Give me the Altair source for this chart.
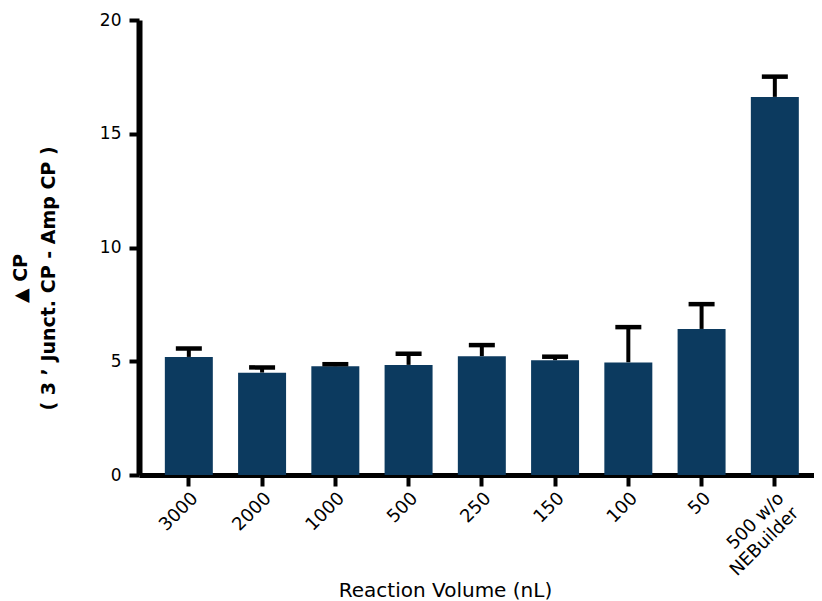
import altair as alt
import pandas as pd

categories = ["3000", "2000", "1000", "500", "250", "150", "100", "50", "500 w/o\nNEBuilder"]
means = [5.19, 4.50, 4.78, 4.84, 5.22, 5.04, 4.95, 6.42, 16.62]
upper = [5.56, 4.73, 4.87, 5.33, 5.71, 5.20, 6.50, 7.51, 17.51]

df = pd.DataFrame({"cat": categories, "mean": means, "upper": upper})

FONT = "DejaVu Sans"
BAR = "#0c3a5f"

x_enc = alt.X(
    "cat:N",
    sort=categories,
    scale=alt.Scale(paddingInner=0.345, paddingOuter=0.28, align=0.63),
    axis=alt.Axis(
        title="Reaction Volume (nL)",
        labelAngle=-45,
        labelAlign="right",
        labelBaseline="top",
        labelPadding=3,
        labelFontSize=18,
        labelColor="black",
        labelFont=FONT,
        labelLineHeight=21,
        labelExpr="split(datum.label, '\\n')",
        domainColor="black",
        domainWidth=5,
        tickColor="black",
        tickSize=11,
        tickWidth=4,
        titleFont=FONT,
        titleFontSize=20,
        titleFontWeight=500,
        titleColor="black",
        titleX=306,
        titleY=121,
        titleAlign="center",
        titleBaseline="alphabetic",
    ),
)

y_scale = alt.Scale(domain=[0, 20], nice=False)
y_axis = alt.Axis(
    title=["\u25b2 CP", "( 3 \u2019 Junct. CP - Amp CP )"],
    values=[0, 5, 10, 15, 20],
    grid=False,
    labelFontSize=17,
    labelFont=FONT,
    labelColor="black",
    labelPadding=8,
    domainColor="black",
    domainWidth=6,
    tickColor="black",
    tickSize=10,
    tickWidth=4,
    titleFont=FONT,
    titleFontSize=19,
    titleFontWeight="bold",
    titleColor="black",
    titleAngle=270,
    titleX=-113,
    titleY=258,
    titleAlign="center",
    titleBaseline="alphabetic",
    titleLineHeight=28,
)

bars = alt.Chart(df).mark_bar(color=BAR).encode(
    x=x_enc,
    y=alt.Y("mean:Q", scale=y_scale, axis=y_axis),
)

whisk = alt.Chart(df).mark_rule(color="black", strokeWidth=4).encode(
    x=alt.X("cat:N", sort=categories),
    y=alt.Y("mean:Q"),
    y2="upper:Q",
)

caps = alt.Chart(df).mark_tick(
    color="black", orient="horizontal", size=26, thickness=4.5, opacity=1
).encode(
    x=alt.X("cat:N", sort=categories),
    y=alt.Y("upper:Q"),
)

chart = (
    alt.layer(whisk, bars, caps)
    .properties(
        width=675,
        height=455,
        padding={"left": 131, "top": 12, "right": 0, "bottom": 126},
        autosize=alt.AutoSizeParams(type="none"),
    )
    .configure_view(stroke=None)
)

chart.save("out.html", embed_options={"renderer": "svg", "actions": False})
